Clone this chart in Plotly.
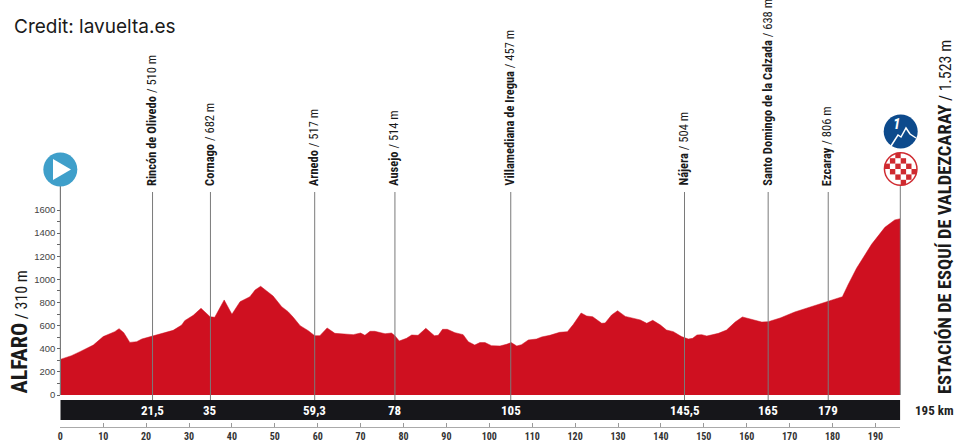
import plotly.graph_objects as go

# profile
km = [0, 2.6, 4.6, 7.7, 10, 11.6, 12.7, 13.7, 14.8, 16.2, 17.8, 19, 21.5, 24, 26.3, 28.3, 29, 31, 32.8, 34.9,
      36, 38.2, 40, 41.9, 44.2, 45.4, 46.7, 48.1, 49.6, 51.6, 53.1, 54.3, 55.9, 57.8, 59.3, 60.5,
      62.2, 64, 66.4, 68.3, 70, 71, 72.2, 73.3, 75.7, 77.2, 78, 79, 80.7, 81.9, 83.4, 85.2, 87.2, 88.1, 89.1, 90.2,
      92, 93.9, 95.1, 96.6, 97.8, 99, 100.5, 102.5, 104, 105.1, 106.4, 107.5, 109.1, 111, 112.2, 114.1, 116.4, 118.2,
      119.6, 121.4, 122.7, 124.1, 126.2, 127, 128.5, 129.9, 131.7, 134, 135.2,
      136.7, 138.1, 139.9, 141.3, 142.9, 144.8, 146.4, 147.4, 148.4, 149.5, 150.7, 153.4, 155.3, 157.3, 159, 160.8,
      163.5, 165, 167.8, 171.2, 175.5, 179.1, 182.3, 183.6, 185.6, 189.1, 192.2, 194.5, 195.8]
elevation = [308, 340, 375, 432, 505, 533, 548, 574, 539, 455, 461, 484, 510, 533, 559, 605, 643, 689, 750, 677,
             672, 822, 698, 807, 850, 908, 940, 900, 856, 764, 721, 672, 600, 556, 513, 513,
             580, 533, 530, 522, 536, 516, 551, 551, 530, 536, 513, 467, 490, 519, 516, 577, 513, 516, 568, 568,
             539, 522, 461, 432, 453, 453, 427, 424, 438, 453, 424, 435, 476, 484, 502, 516, 542, 548,
             611, 709, 683, 677, 620, 623, 692, 729, 680, 660, 649,
             620, 646, 605, 562, 548, 505, 484, 490, 519, 522, 510, 533, 562, 631, 675, 660,
             631, 634, 666, 718, 770, 810, 850, 951, 1096, 1303, 1450, 1514, 1525]

pass_km = [21.5, 35, 59.3, 78, 105, 145.5, 165, 179]
pass_labels = ['21,5', '35', '59,3', '78', '105', '145,5', '165', '179']
pass_names = ['Rincón de Olivedo', 'Cornago', 'Arnedo', 'Ausejo', 'Villamediana de Iregua', 'Nájera',
              'Santo Domingo de la Calzada', 'Ezcaray']
pass_alts = ['510 m', '682 m', '517 m', '514 m', '457 m', '504 m', '638 m', '806 m']
km_ticks = list(range(0, 200, 10))
elev_ticks = list(range(0, 1700, 100))
END_KM = 195.8

NARROW = 'Roboto Condensed, Roboto'
W, H = 960, 445


def px(x):
    return x / W


def py(y):
    return (H - y) / H


fig = go.Figure()
fig.add_trace(go.Scatter(x=km, y=elevation, mode='lines', fill='tozeroy', fillcolor='#cf1020',
                         line=dict(color='#cf1020', width=0.5), hoverinfo='skip', showlegend=False))

# black distance band
fig.add_shape(type='rect', xref='x', yref='paper', x0=0, x1=END_KM, y0=py(420), y1=py(400),
              fillcolor='#16161a', line_width=0, layer='below')

# vertical lines of the intermediate points
for k in pass_km:
    fig.add_shape(type='line', xref='x', yref='paper', x0=k, x1=k, y0=py(400), y1=py(192),
                  line=dict(color='#7a7a7a', width=1))
fig.add_shape(type='line', xref='paper', yref='paper', x0=px(900.3), x1=px(900.3), y0=py(395), y1=py(186),
              line=dict(color='#7a7a7a', width=1))

for k, lab, name, alt in zip(pass_km, pass_labels, pass_names, pass_alts):
    fig.add_annotation(x=k, xref='x', xanchor='center', y=py(410.5), yref='paper', yanchor='middle',
                       text=f'<b>{lab}</b>', showarrow=False, font=dict(family=NARROW, size=13, color='white'))
    fig.add_annotation(x=k, xref='x', xanchor='center', xshift=-1, y=py(188), yref='paper', yanchor='bottom',
                       textangle=-90, text=f'<b>{name}</b> / {alt}', showarrow=False,
                       font=dict(family=NARROW, size=12.5, color='#1a1a1a'))

fig.add_annotation(x=px(913), xref='paper', xanchor='left', y=py(410.5), yref='paper', yanchor='middle',
                   text='<b>195 km</b>', showarrow=False, font=dict(family=NARROW, size=13, color='#222'))
fig.add_annotation(x=px(12), xref='paper', xanchor='left', y=py(27), yref='paper', yanchor='middle',
                   text='Credit: lavuelta.es', showarrow=False, font=dict(family='Inter', size=19, color='#1a1a1a'))
fig.add_annotation(x=px(19), xref='paper', xanchor='center', y=py(396), yref='paper', yanchor='bottom',
                   textangle=-90, text='<b><span style="font-size:22px">ALFARO</span></b> / 310 m', showarrow=False,
                   font=dict(family=NARROW, size=16, color='#1a1a1a'))
fig.add_annotation(x=px(945), xref='paper', xanchor='center', y=py(396), yref='paper', yanchor='bottom',
                   textangle=-90,
                   text='<b><span style="font-size:18.5px">ESTACIÓN DE ESQUÍ DE VALDEZCARAY</span></b> / 1.523 m',
                   showarrow=False, font=dict(family=NARROW, size=16, color='#1a1a1a'))


def circle(cx, cy, r, color):
    fig.add_shape(type='circle', xref='paper', yref='paper', x0=px(cx - r), x1=px(cx + r),
                  y0=py(cy + r), y1=py(cy - r), fillcolor=color, line_width=0)


def poly(points, **kw):
    path = 'M ' + ' L '.join(f'{px(a)} {py(b)}' for a, b in points)
    fig.add_shape(type='path', xref='paper', yref='paper', path=path, **kw)


# start icon
fig.add_shape(type='line', xref='paper', yref='paper', x0=px(60.3), x1=px(60.3), y0=py(395), y1=py(186),
              line=dict(color='#7a7a7a', width=1))
circle(60.3, 169.5, 17, '#3f9fca')
poly([(53, 159), (71, 169.5), (53, 180), (53, 159)], fillcolor='white', line_width=0)

# mountain icon
circle(900.7, 131.5, 17, '#0d4a8c')
poly([(891, 146), (898, 135), (901, 137), (906, 128), (910, 134), (916, 138)],
     line=dict(color='white', width=1.5))
fig.add_annotation(x=px(896), xref='paper', xanchor='center', y=py(124), yref='paper', yanchor='middle',
                   text='<b><i>1</i></b>', showarrow=False, font=dict(family=NARROW, size=15, color='white'))

# finish icon
circle(900.7, 169, 17, '#cf2a30')
circle(900.7, 169, 15.5, 'white')
for i in range(-3, 3):
    for j in range(-3, 3):
        if (i + j) % 2 == 0:
            cx, cy = 900.7 + (i + 0.5) * 5.4, 169 + (j + 0.5) * 5.4
            if (cx - 900.7) ** 2 + (cy - 169) ** 2 < 15 ** 2:
                fig.add_shape(type='rect', xref='paper', yref='paper', x0=px(cx - 2.7), x1=px(cx + 2.7),
                              y0=py(cy + 2.7), y1=py(cy - 2.7), fillcolor='#cf2a30', line_width=0)

fig.update_layout(
    width=W, height=H, margin=dict(l=0, r=0, t=0, b=0, autoexpand=False),
    plot_bgcolor='white', paper_bgcolor='white', showlegend=False,
    xaxis=dict(domain=[px(60.3), px(900.3)], range=[0, END_KM], anchor='free', position=py(427),
               tickvals=km_ticks + [END_KM], ticktext=[str(k) for k in km_ticks] + [''],
               ticks='inside', ticklen=4, tickcolor='#999', showline=True, linecolor='#aaa', linewidth=1,
               showgrid=False, zeroline=False,
               tickfont=dict(family=NARROW, size=10, color='#333', weight='bold')),
    yaxis=dict(domain=[py(395), py(186)], range=[0, 209 / 0.115625], anchor='free', position=px(60.3),
               tickvals=elev_ticks, ticktext=[str(v) if v % 200 == 0 else '' for v in elev_ticks],
               ticks='outside', ticklen=3, tickcolor='#666', showline=True, linecolor='#7a7a7a', linewidth=1,
               showgrid=False, zeroline=False,
               tickfont=dict(family='Liberation Sans', size=9.5, color='#444')),
)

# the page's default body margin would push the fixed-size figure past the window
fig.write_html("out.html", config=dict(displayModeBar=False),
               post_script="document.body.style.margin='0';document.body.style.overflow='hidden';")
